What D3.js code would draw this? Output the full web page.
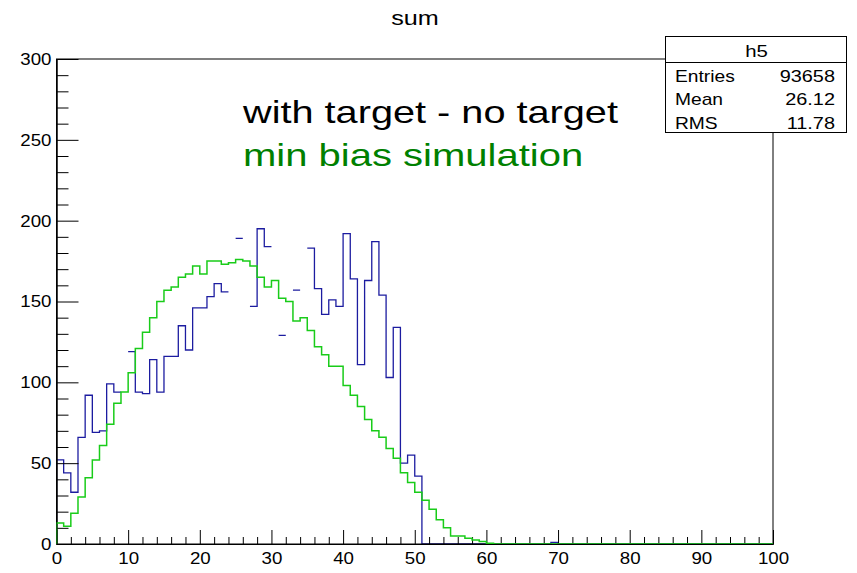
<!DOCTYPE html>
<html>
<head>
<meta charset="utf-8">
<script src="https://cdn.jsdelivr.net/npm/d3@7"></script>
<style>
  html, body { margin: 0; padding: 0; background: #fff; }
  svg { display: block; font-family: "Liberation Sans", Arial, sans-serif; }
</style>
</head>
<body>
<svg id="chart" width="857" height="573"></svg>
<script>
// ---- data ----
const binEdgesDomain = [0, 100];
const nBins = 100;
// "with target - no target" (blue); null = segment not visible in the picture
const blueValues = [
  52, 44, 32, 66, 92, 69, 70, 99, 94, null,
  119, 94, 93, 114, 94, 116, 116, 135, 120, 146,
  146, 153, 161, 156, null, 189, null, 147, 195, 184,
  null, 129, null, 157, null, 183, 158, 142, 151, 147,
  192, 164, 111, 163, 187, 154, 103, 134, 50, 55,
  42, 0, 0, 0, 0, 0, 0, 0, 0, 0,
  0, 0, 0, 0, 0, 0, 0, 0, 0, 1,
  0, 0, 0, 0, 0, 0, 0, 0, 0, 0,
  0, 0, 0, 0, 0, 0, 0, 0, 0, 0,
  0, 0, 0, 0, 0, 0, 0, 0, 0, 0
];
// "min bias simulation" (green)
const greenValues = [
  13, 11, 19, 29, 41, 52, 61, 74, 87, 94,
  106, 121, 131, 140, 150, 157, 159, 165, 167, 172,
  167, 175, 175, 173, 174, 176, 175, 172, 165, 159,
  163, 152, 150, 138, 140, 132, 122, 117, 110, 110,
  98, 92, 85, 77, 70, 66, 59, 53, 44, 38,
  32, 27, 21.5, 15, 10, 5, 5, 3.5, 2.5, 1.5,
  0.5, 0, 0, 0, 0, 0, 0, 0, 0, 0,
  0, 0, 0, 0, 0, 0, 0, 0, 0, 0,
  0, 0, 0, 0, 0, 0, 0, 0, 0, 0,
  0, 0, 0, 0, 0, 0, 0, 0, 0, 0
];
const xMajorTicks = [0, 10, 20, 30, 40, 50, 60, 70, 80, 90, 100];
const yMajorTicks = [0, 50, 100, 150, 200, 250, 300];
const titleText = "sum";
const legendLines = ["with target - no target", "min bias simulation"];
const statsName = "h5";
const statsRows = [["Entries", "93658"], ["Mean", "26.12"], ["RMS", "11.78"]];

// ---- drawing ----
const svg = d3.select("#chart");
const W = 857, H = 573;
const L = 56.5, R = 773, T = 59, B = 544;
const x = d3.scaleLinear().domain(binEdgesDomain).range([L, R]);
const y = d3.scaleLinear().domain([0, 300]).range([B, T]);
const binW = (binEdgesDomain[1] - binEdgesDomain[0]) / nBins;

// widen glyphs horizontally (reference text is rendered wider than Liberation Sans)
function stretch(sel, k) {
  sel.each(function () {
    const len = this.getComputedTextLength();
    this.setAttribute("textLength", (len * k).toFixed(2));
    this.setAttribute("lengthAdjust", "spacingAndGlyphs");
  });
}

svg.append("rect").attr("width", W).attr("height", H).attr("fill", "#fff");

function stepPoints(vals) {
  const pts = [];
  vals.forEach((v, i) => {
    const x0 = binEdgesDomain[0] + i * binW;
    if (v == null) { pts.push({x: x0, y: null}); return; }
    pts.push({x: x0, y: v});
    pts.push({x: x0 + binW, y: v});
  });
  return pts;
}
function withEnds(vals) {
  const pts = stepPoints(vals);
  pts.unshift({x: binEdgesDomain[0], y: 0});
  pts.push({x: binEdgesDomain[1], y: 0});
  return pts;
}
const line = d3.line()
  .defined(d => d.y != null)
  .x(d => x(d.x))
  .y(d => y(Math.max(0, Math.min(300, d.y))));

svg.append("defs").append("clipPath").attr("id", "clip")
  .append("rect").attr("x", L).attr("y", T).attr("width", R - L).attr("height", B - T);

// blue histogram
svg.append("path")
  .attr("d", line(withEnds(blueValues)))
  .attr("fill", "none")
  .attr("stroke", "#1c1ca0")
  .attr("stroke-width", 1.3)
  .attr("clip-path", "url(#clip)");

// frame
svg.append("rect").attr("x", L).attr("y", T).attr("width", R - L).attr("height", B - T)
  .attr("fill", "none").attr("stroke", "#000").attr("stroke-width", 1);

// x axis
const xMinor = d3.range(0, 101, 2).filter(v => v % 10 !== 0);
const gx = svg.append("g").attr("transform", `translate(0,${B})`);
gx.call(d3.axisBottom(x).tickValues(xMajorTicks).tickSizeInner(-14).tickSizeOuter(0).tickPadding(8).tickFormat(d3.format("d")));
gx.append("g").call(d3.axisBottom(x).tickValues(xMinor).tickSizeInner(-7).tickSizeOuter(0).tickFormat(""));
gx.selectAll(".domain").attr("stroke", "#000");
gx.selectAll("text").attr("font-size", 17).attr("fill", "#000").attr("font-family", "Liberation Sans, Arial, sans-serif");
stretch(gx.selectAll("text"), 1.1);

// y axis
const yMinor = d3.range(0, 301, 10).filter(v => v % 50 !== 0);
const gy = svg.append("g").attr("transform", `translate(${L},0)`);
gy.call(d3.axisLeft(y).tickValues(yMajorTicks).tickSizeInner(-22).tickSizeOuter(0).tickPadding(5).tickFormat(d3.format("d")));
gy.append("g").call(d3.axisLeft(y).tickValues(yMinor).tickSizeInner(-12).tickSizeOuter(0).tickFormat(""));
gy.selectAll(".domain").attr("stroke", "#000");
gy.selectAll("text").attr("font-size", 17).attr("fill", "#000").attr("font-family", "Liberation Sans, Arial, sans-serif");
stretch(gy.selectAll("text"), 1.1);

// green histogram (drawn on top)
svg.append("path")
  .attr("d", line(withEnds(greenValues)))
  .attr("fill", "none")
  .attr("stroke", "#19cc19")
  .attr("stroke-width", 1.5)
  .attr("clip-path", "url(#clip)");

// title
const title = svg.append("text").attr("x", 415).attr("y", 25).attr("text-anchor", "middle")
  .attr("font-size", 21).attr("fill", "#000").text(titleText);
stretch(title, 1.2);

// annotation texts
const t1 = svg.append("text").attr("x", 243).attr("y", 123).attr("font-size", 32).attr("fill", "#000").text(legendLines[0]);
const t2 = svg.append("text").attr("x", 243).attr("y", 166).attr("font-size", 32).attr("fill", "#008000").text(legendLines[1]);
stretch(t1, 1.24);
stretch(t2, 1.25);

// stats box
const sb = {x: 665, y: 36, w: 181, h: 96, hdr: 26};
svg.append("rect").attr("x", sb.x + 0.5).attr("y", sb.y + 0.5).attr("width", sb.w).attr("height", sb.h)
  .attr("fill", "#fff").attr("stroke", "#000");
svg.append("line").attr("x1", sb.x + 0.5).attr("x2", sb.x + sb.w + 0.5)
  .attr("y1", sb.y + sb.hdr + 0.5).attr("y2", sb.y + sb.hdr + 0.5).attr("stroke", "#000");
const hn = svg.append("text").attr("x", sb.x + sb.w / 2 + 1).attr("y", 57).attr("text-anchor", "middle")
  .attr("font-size", 17).text(statsName);
stretch(hn, 1.2);
statsRows.forEach((r, i) => {
  const by = 81.5 + i * 23.7;
  const a = svg.append("text").attr("x", 675).attr("y", by).attr("font-size", 17).text(r[0]);
  const b = svg.append("text").attr("x", 835).attr("y", by).attr("text-anchor", "end").attr("font-size", 17).text(r[1]);
  stretch(a, 1.13);
  stretch(b, 1.17);
});
</script>
</body>
</html>
